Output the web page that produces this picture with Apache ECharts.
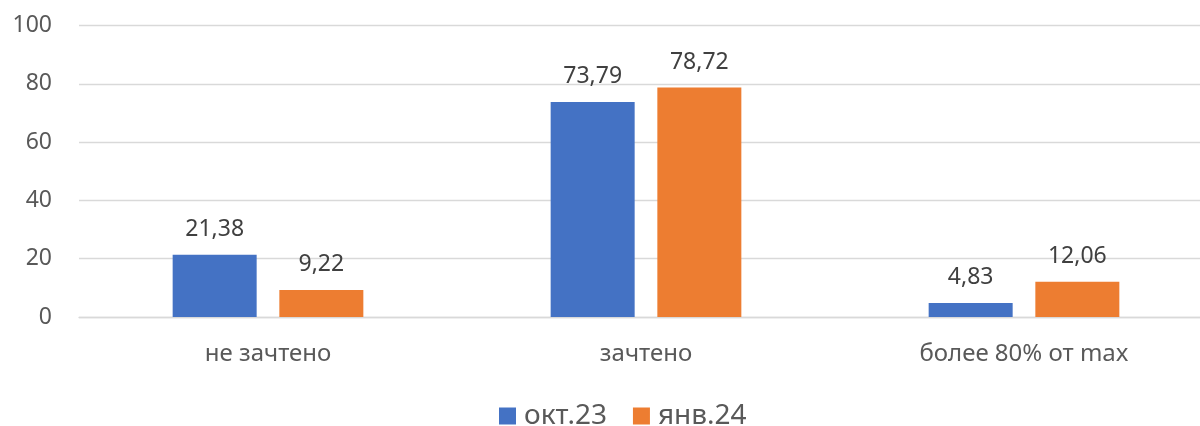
<!DOCTYPE html>
<html><head><meta charset="utf-8">
<script src="https://cdn.jsdelivr.net/npm/echarts@6/dist/echarts.min.js"></script>
<style>html,body{margin:0;padding:0;background:#fff;overflow:hidden;width:1200px;height:426px}#c{width:1220px;height:426px}</style>
</head><body><div id="c"></div>
<script>
const categories = ['не зачтено', 'зачтено', 'более 80% от max'];
const seriesNames = ['окт.23', 'янв.24'];
const oct23 = [21.38, 73.79, 4.83];
const jan24 = [9.22, 78.72, 12.06];
const yTicks = [0, 20, 40, 60, 80, 100];

const font = 'Noto Sans';
const fmt = p => String(p.value.toFixed(2)).replace('.', ',');
const chart = echarts.init(document.getElementById('c'), null, {renderer: 'canvas'});
chart.setOption({
  animation: false,
  textStyle: {fontFamily: font},
  grid: {left: 79, top: 25.5, width: 1134, height: 291.5, containLabel: false},
  legend: {
    data: seriesNames, left: 494, top: 397,
    itemWidth: 17, itemHeight: 17, itemGap: 26,
    icon: 'rect',
    textStyle: {fontSize: 28, color: '#595959', fontFamily: font, padding: [0,0,0,3]}
  },
  xAxis: {
    type: 'category', data: categories,
    axisLine: {lineStyle: {color: '#d9d9d9', width: 1.3}},
    axisTick: {show: false},
    axisLabel: {fontSize: 24, color: '#595959', margin: 25, fontFamily: font}
  },
  yAxis: {
    type: 'value', min: yTicks[0], max: yTicks[yTicks.length-1], interval: 20,
    axisLine: {show: false}, axisTick: {show: false},
    splitLine: {lineStyle: {color: '#d9d9d9', width: 1.3}},
    axisLabel: {fontSize: 23, color: '#595959', margin: 27, fontFamily: font}
  },
  series: [
    {name: seriesNames[0], type: 'bar', data: oct23, barWidth: 84, barGap: '27%',
     itemStyle: {color: '#4472C4'},
     label: {show: true, position: 'top', distance: 14, fontSize: 23, color: '#404040', formatter: fmt, fontFamily: font}},
    {name: seriesNames[1], type: 'bar', data: jan24, barWidth: 84, barGap: '27%',
     itemStyle: {color: '#ED7D31'},
     label: {show: true, position: 'top', distance: 14, fontSize: 23, color: '#404040', formatter: fmt, fontFamily: font}}
  ]
});
</script></body></html>
